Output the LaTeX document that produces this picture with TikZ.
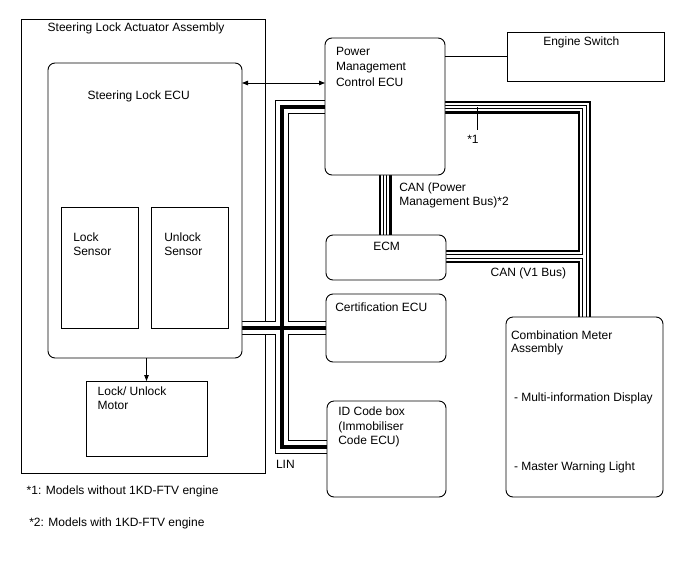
\documentclass[tikz,border=0pt]{standalone}
\usepackage{fontspec}
\setmainfont{Liberation Sans}
\usetikzlibrary{arrows.meta}
\pgfdeclarelayer{back}
\pgfdeclarelayer{bus}
\pgfsetlayers{back,bus,main}
\tikzset{
  box/.style={draw=black, line width=0.9pt, fill=white, inner sep=0pt, outer sep=0pt, anchor=north west, shape=rectangle},
  rbox/.style={box, rounded corners=7pt},
  tx/.style={anchor=base west, inner sep=0pt, outer sep=0pt, font=\fontsize{12}{14}\selectfont},
  arr/.style={line width=0.8pt, -{Triangle[length=6pt,width=4.5pt]}},
  dblarr/.style={line width=0.8pt, {Triangle[length=6pt,width=4.5pt]}-{Triangle[length=6pt,width=4.5pt]}},
  thinline/.style={line width=0.8pt},
  canbus/.style={draw=black, line width=13pt, line cap=butt, line join=miter,
    postaction={draw=white, line width=8.5pt},
    postaction={draw=black, line width=4.6pt},
    postaction={draw=white, line width=2.6pt}},
  linbus/.style={draw=black, line width=14pt, line cap=butt, line join=miter,
    postaction={draw=white, line width=12pt},
    postaction={draw=black, line width=3.2pt}},
}
\begin{document}
\begin{tikzpicture}[x=1pt,y=-1pt]
\begin{pgfonlayer}{back}
\fill[white] (0,0) rectangle (688,560);
\end{pgfonlayer}
\useasboundingbox (0,0) rectangle (688,560);

% coordinates
\coordinate (ybus) at (0,107);
\coordinate (xlin) at (282,0);
\coordinate (ylinb) at (0,447);
\coordinate (ycan) at (0,256.5);
\coordinate (yarr) at (0,83);
\coordinate (m1a) at (477,107);
\coordinate (m1b) at (477,130);

% outer assembly box
\begin{pgfonlayer}{back}
\node[box, fill=none, minimum width=244pt, minimum height=454pt] (assy) at (21,19) {};
\end{pgfonlayer}

% boxes
\node[rbox, minimum width=194pt, minimum height=295pt] (slecu) at (48,63) {};
\node[box, minimum width=77pt, minimum height=121pt] (lsens) at (61,207) {};
\node[box, minimum width=77pt, minimum height=121pt] (usens) at (151,207) {};
\node[box, minimum width=121pt, minimum height=75pt] (motor) at (86,381) {};
\node[rbox, minimum width=120pt, minimum height=137pt] (pmc) at (325,38) {};
\node[box, minimum width=157pt, minimum height=49pt] (engsw) at (507,32) {};
\node[rbox, minimum width=120pt, minimum height=45pt] (ecm) at (326,235) {};
\node[rbox, minimum width=120pt, minimum height=68pt] (cert) at (326,294) {};
\node[rbox, minimum width=119pt, minimum height=96pt] (idc) at (327,401) {};
\node[rbox, minimum width=157pt, minimum height=180pt] (cma) at (506,317) {};

% buses
\begin{pgfonlayer}{bus}
\draw[linbus] (pmc.west |- ybus) -| (xlin |- ylinb) -- (idc.west |- ylinb)
  (slecu.east |- cert.west) -- (cert.west);
\draw[canbus] (pmc.east |- ybus) -| (cma.north)
  (ecm.east |- ycan) -- (cma.north |- ycan);
\draw[canbus] (pmc.south) -- (pmc.south |- ecm.north);
\end{pgfonlayer}

% connectors
\draw[dblarr] (slecu.east |- yarr) -- (pmc.west |- yarr);
\draw[thinline] (pmc.east |- engsw.west) -- (engsw.west);
\draw[arr] (slecu.south -| motor.north) -- (motor.north);
\draw[thinline] (m1a) -- (m1b);

% texts
\node[tx] (t1) at (47.7,31.5) {Steering Lock Actuator Assembly};
\node[tx] (t2) at (87.7,99) {Steering Lock ECU};
\node[tx] (t3) at (73.3,241) {Lock};
\node[tx] (t4) at (73.3,255) {Sensor};
\node[tx] (t5) at (164.3,241) {Unlock};
\node[tx] (t6) at (164.3,255) {Sensor};
\node[tx] (t7) at (97.7,395.7) {Lock/ Unlock};
\node[tx] (t8) at (97.7,409.3) {Motor};
\node[tx] (t9) at (336,55) {Power};
\node[tx] (t10) at (336,70.5) {Management};
\node[tx] (t11) at (336,86) {Control ECU};
\node[tx] (t12) at (543.3,45) {Engine Switch};
\node[tx] (t13) at (373.3,250) {ECM};
\node[tx] (t14) at (335.3,311) {Certification ECU};
\node[tx] (t15) at (338.3,415) {ID Code box};
\node[tx] (t16) at (338.3,430) {(Immobiliser};
\node[tx] (t17) at (338.3,444) {Code ECU)};
\node[tx] (t18) at (511,339) {Combination Meter};
\node[tx] (t19) at (511,352.7) {Assembly};
\node[tx] (t20) at (514,401.7) {- Multi-information Display};
\node[tx] (t21) at (514,470.7) {- Master Warning Light};
\node[tx] (t22) at (467.3,143.3) {*1};
\node[tx] (t23) at (399.3,191) {CAN (Power};
\node[tx] (t24) at (399.3,205.7) {Management Bus)*2};
\node[tx] (t25) at (490.7,276.7) {CAN (V1 Bus)};
\node[tx] (t26) at (276,468.3) {LIN};
\node[tx] (t27) at (26.7,494) {*1: Models without 1KD-FTV engine};
\node[tx] (t28) at (29.3,526) {*2: Models with 1KD-FTV engine};
\end{tikzpicture}
\end{document}
